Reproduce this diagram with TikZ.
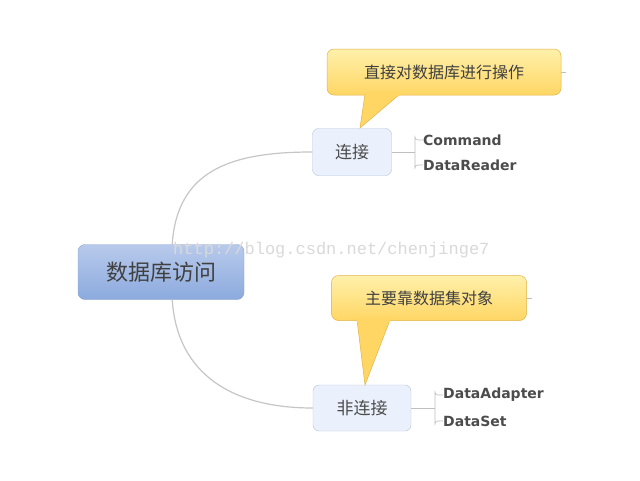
\documentclass[tikz,border=0pt]{standalone}
\usepackage{fontspec}
\newfontfamily\cjk{Noto Sans CJK SC}
\newfontfamily\lat{DejaVu Sans}
\newfontfamily\mono{Liberation Mono}
\definecolor{roottop}{RGB}{184,202,235}
\definecolor{rootbot}{RGB}{140,170,222}
\definecolor{rootline}{RGB}{140,160,200}
\definecolor{kidfill}{RGB}{235,241,252}
\definecolor{kidline}{RGB}{180,195,220}
\definecolor{caltop}{RGB}{255,240,170}
\definecolor{calbot}{RGB}{255,214,100}
\definecolor{calline}{RGB}{225,180,70}
\begin{document}
\begin{tikzpicture}[x=1pt,y=-1pt,
  kid/.style={draw=kidline, fill=kidfill, rounded corners=6pt, font=\cjk\fontsize{17}{20}\selectfont, text=black!70},
  callout/.style={draw=calline, top color=caltop, bottom color=calbot, rounded corners=7pt, font=\cjk\fontsize{16}{20}\selectfont, line width=0.5pt, text=black!75},
  ptr/.style={fill=calbot, draw=calline, line width=0.5pt},
  branch/.style={draw=gray!45, line width=1.2pt},
  leaf/.style={font=\lat\bfseries\fontsize{14}{16}\selectfont, text=black!70, anchor=west, inner sep=0pt},
  thin/.style={draw=gray!50, line width=0.6pt}]
\useasboundingbox (0,0) rectangle (640,480);
\fill[white] (0,0) rectangle (640,480);
\node[draw=rootline, rounded corners=7pt, top color=roottop, bottom color=rootbot, minimum width=166pt, minimum height=55pt, font=\cjk\fontsize{22}{26}\selectfont, text=black!75] (root) at (161,272) {数据库访问};
\node[kid, minimum width=79pt, minimum height=47pt] (c1) at (352,152) {连接};
\node[kid, minimum width=98pt, minimum height=46pt] (c2) at (362,408) {非连接};
\draw[branch] ([xshift=-72pt]root.north east) .. controls +(5,-75) and +(-80,0) .. (c1.west);
\draw[branch] ([xshift=-72pt]root.south east) .. controls +(5,75) and +(-80,0) .. (c2.west);
% callouts
\node[callout, minimum width=234pt, minimum height=46pt] (n1) at (444,72) {直接对数据库进行操作};
\draw[thin] (n1.east) -- ++(5,0);
\path[ptr] (365,94) -- (360,128) -- (400,94);
\fill[calbot] (364,92) -- (401,92) -- (400,96) -- (365,96) -- cycle;
\node[callout, minimum width=195pt, minimum height=45pt] (n2) at (429,298) {主要靠数据集对象};
\draw[thin] (n2.east) -- ++(5,0);
\path[ptr] (357,320) -- (365,385) -- (390,320);
\fill[calbot] (356,318) -- (391,318) -- (390,322) -- (357,322) -- cycle;
% leaves
\node[leaf] (l1) at (423,140) {Command};
\node[leaf] (l2) at (423,165) {DataReader};
\node[leaf] (l3) at (443,395) {DataAdapter};
\node[leaf] (l4) at (443,421) {DataSet};
\draw[thin] (c1.east) -- ++(23,0);
\draw[thin] (l1.west) -- ++(-5,0) arc[start angle=90,end angle=180,radius=3] -- ([xshift=-8pt,yshift=-3pt]l2.west) arc[start angle=180,end angle=270,radius=3] -- (l2.west);
\draw[thin] (c2.east) -- ++(24,0);
\draw[thin] (l3.west) -- ++(-5,0) arc[start angle=90,end angle=180,radius=3] -- ([xshift=-8pt,yshift=-3pt]l4.west) arc[start angle=180,end angle=270,radius=3] -- (l4.west);
% watermark
\node[font=\mono\fontsize{17}{20}\selectfont, text=gray!30, anchor=west, inner sep=0pt] (wm) at (173,250) {http://blog.csdn.net/chenjinge7};
\end{tikzpicture}
\end{document}
